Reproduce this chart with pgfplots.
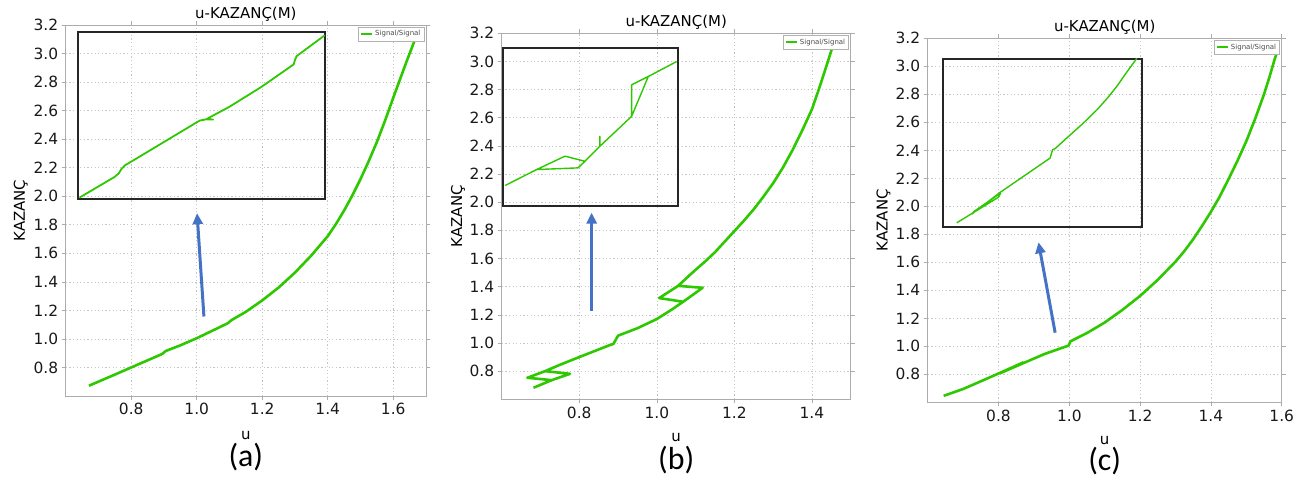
\documentclass[border=0pt]{standalone}
\usepackage{fontspec}
\setmainfont{DejaVu Sans}
\newfontfamily\capfont{Carlito}
\usepackage{pgfplots}
\pgfplotsset{compat=1.18}
\usetikzlibrary{arrows.meta}

\definecolor{sig}{RGB}{45,200,0}
\definecolor{arrowblue}{RGB}{68,114,196}

\tikzset{
  insetframe/.style={black!85, line width=2bp},
  pointer/.style={arrowblue, line width=3bp, -{Triangle[length=11bp,width=10bp]}},
}

\pgfplotsset{
  panel/.style={
    scale only axis, anchor=south west,
    xmin=0.6, ymin=0.6, ymax=3.2,
    ytick={0.8,1.0,1.2,1.4,1.6,1.8,2.0,2.2,2.4,2.6,2.8,3.0,3.2},
    grid=major,
    grid style={gray!45, dash pattern=on 1.2bp off 2.4bp, line width=0.6bp},
    axis line style={gray!65, line width=0.9bp},
    tick style={gray!65, line width=0.6bp},
    tick align=outside, major tick length=4bp,
    ticklabel style={font=\fontsize{15.5}{18}\selectfont, text=black!90},
    /pgf/number format/assume math mode=true,
    xticklabel style={/pgf/number format/.cd,fixed,fixed zerofill,precision=1},
    yticklabel style={/pgf/number format/.cd,fixed,fixed zerofill,precision=1},
    title={u-KAZANÇ(M)},
    every axis title shift=0pt,
    title style={font=\fontsize{15}{18}\selectfont, at={(axis description cs:0.5,1.03)}, anchor=center},
    xlabel={u},
    xlabel style={font=\fontsize{15}{18}\selectfont, at={(axis description cs:0.5,-0.105)}, anchor=center},
    ylabel={KAZANÇ},
    ylabel style={font=\fontsize{15}{18}\selectfont, at={(axis description cs:-0.125,0.5)}, anchor=center},
    legend style={at={(0.995,0.995)}, anchor=north east, font=\fontsize{7}{8}\selectfont,
      draw=gray!60, line width=0.6bp, inner sep=1.5bp, text=black!70},
    legend image code/.code={\draw[#1, line width=2bp] (0bp,0bp) -- (11bp,0bp);},
    clip mode=individual,
  },
  main/.style={sig, line width=2.6bp, line join=round},
  zoomed/.style={sig, line width=1.4bp, line join=round, forget plot},
}

\begin{document}
\begin{tikzpicture}
\useasboundingbox (0bp,0bp) rectangle (1303bp,483bp);

% (a)
\begin{axis}[panel, at={(65.7bp,87bp)}, width=360.3bp, height=371bp,
  xmax=1.7, xtick={0.8,1.0,1.2,1.4,1.6}]
\draw[insetframe] (axis cs:0.637,1.984) rectangle (axis cs:1.393,3.149);
\addplot[zoomed, line width=1.8bp] coordinates {
  (0.642,1.990) (0.749,2.135) (0.762,2.160) (0.770,2.190) (0.780,2.215)
  (1.009,2.530) (1.029,2.539) (1.050,2.537) (1.031,2.542) (1.100,2.627)
  (1.198,2.767) (1.296,2.924) (1.300,2.955) (1.305,2.982) (1.391,3.128)};
\draw[pointer] (axis cs:1.022,1.157) -- (axis cs:1.001,1.881);
\addplot[main] coordinates {
  (0.671,0.672) (0.75,0.75) (0.80,0.80) (0.85,0.85) (0.895,0.895) (0.905,0.915)
  (0.95,0.955) (1.0,1.005) (1.05,1.06) (1.095,1.11) (1.105,1.13) (1.15,1.19)
  (1.2,1.27) (1.25,1.36) (1.3,1.465) (1.35,1.585) (1.4,1.72) (1.425,1.805)
  (1.45,1.90) (1.475,2.005) (1.5,2.12) (1.525,2.245) (1.55,2.38) (1.575,2.53)
  (1.6,2.69) (1.62,2.815) (1.64,2.94) (1.66,3.06) (1.675,3.15)};
\addlegendentry{Signal/Signal}
\node[font=\capfont\fontsize{32}{36}\selectfont] at (axis description cs:0.5,-0.164) {(a)};
\end{axis}

% (b)
\begin{axis}[panel, at={(501.7bp,83.7bp)}, width=349bp, height=366bp,
  xmax=1.5, xtick={0.8,1.0,1.2,1.4}]
\draw[insetframe] (axis cs:0.603,1.973) rectangle (axis cs:1.055,3.099);
\addplot[zoomed] coordinates {
  (0.609,2.119) (0.690,2.232) (0.763,2.327) (0.815,2.291) (0.797,2.244)
  (0.690,2.232) (0.797,2.244) (0.853,2.397) (0.853,2.468) (0.853,2.397)
  (0.935,2.610) (0.935,2.834) (0.978,2.893) (0.935,2.610) (0.978,2.893)
  (1.051,2.999)};
\draw[pointer] (axis cs:0.832,1.23) -- (axis cs:0.832,1.926);
\addplot[main] coordinates {
  (0.682,0.682) (0.729,0.736) (0.666,0.753) (0.712,0.800) (0.776,0.781)
  (0.729,0.736) (0.776,0.781) (0.712,0.800)
  (0.75,0.845) (0.80,0.900) (0.875,0.981) (0.888,0.993) (0.90,1.052)
  (0.95,1.105) (1.0,1.17) (1.04,1.24) (1.068,1.293) (1.006,1.319)
  (1.055,1.406) (1.118,1.392) (1.068,1.293) (1.118,1.392) (1.055,1.406)
  (1.08,1.47) (1.10,1.52) (1.125,1.58) (1.15,1.645) (1.175,1.72) (1.2,1.795)
  (1.225,1.87) (1.25,1.95) (1.275,2.04) (1.3,2.135) (1.325,2.245)
  (1.35,2.37) (1.375,2.51) (1.4,2.66) (1.42,2.82) (1.44,2.99) (1.455,3.12)};
\addlegendentry{Signal/Signal}
\node[font=\capfont\fontsize{32}{36}\selectfont] at (axis description cs:0.5,-0.167) {(b)};
\end{axis}

% (c)
\begin{axis}[panel, at={(927.7bp,80.7bp)}, width=354bp, height=364bp,
  xmax=1.6, xtick={0.8,1.0,1.2,1.4,1.6}]
\draw[insetframe] (axis cs:0.643,1.850) rectangle (axis cs:1.205,3.055);
\addplot[zoomed] coordinates {
  (0.682,1.882) (0.800,2.065) (0.806,2.095) (0.730,1.962) (0.725,1.945)
  (0.805,2.100) (0.946,2.345) (0.951,2.390) (0.953,2.405) (0.960,2.412)
  (1.003,2.511) (1.04,2.595) (1.078,2.689) (1.105,2.765) (1.134,2.856)
  (1.167,2.975) (1.172,2.992) (1.191,3.058)};
\draw[pointer] (axis cs:0.960,1.097) -- (axis cs:0.913,1.743);
\addplot[main] coordinates {
  (0.645,0.646) (0.70,0.695) (0.75,0.75) (0.795,0.800) (0.87,0.885)
  (0.805,0.808) (0.875,0.885) (0.93,0.945) (0.998,1.005) (1.003,1.035)
  (1.05,1.095) (1.1,1.17) (1.15,1.26) (1.2,1.36) (1.25,1.475) (1.3,1.605)
  (1.325,1.68) (1.35,1.765) (1.375,1.86) (1.4,1.96) (1.425,2.07)
  (1.45,2.195) (1.475,2.325) (1.5,2.465) (1.525,2.625) (1.55,2.80)
  (1.565,2.92) (1.58,3.05) (1.589,3.12)};
\addlegendentry{Signal/Signal}
\node[font=\capfont\fontsize{32}{36}\selectfont] at (axis description cs:0.5,-0.162) {(c)};
\end{axis}
\end{tikzpicture}
\end{document}
